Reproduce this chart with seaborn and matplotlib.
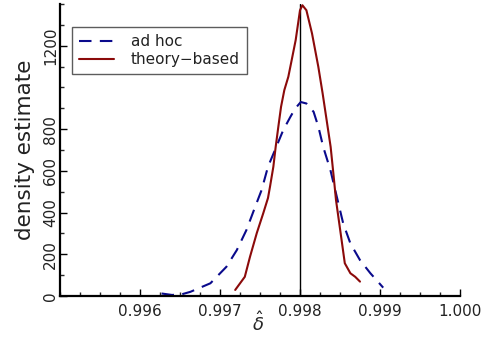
import numpy as np
import pandas as pd
import matplotlib
matplotlib.use("Agg")
import matplotlib.pyplot as plt
from matplotlib.ticker import MultipleLocator, FixedLocator
import seaborn as sns

# Kernel density estimates of delta-hat for the two estimators
adhoc_x = [0.99627, 0.99640, 0.99652, 0.99663, 0.99688, 0.99708, 0.99721, 0.99733,
           0.99744, 0.99752, 0.99760, 0.99767, 0.99779, 0.99788, 0.99794, 0.99801,
           0.99808, 0.99817, 0.99823, 0.99829, 0.99838, 0.99844, 0.99854, 0.99863,
           0.99875, 0.99888, 0.99904]
adhoc_y = [12, 5, 8, 20, 61, 140, 220, 316, 428, 508, 620, 684, 795, 859, 899, 930,
           923, 883, 811, 715, 604, 508, 348, 252, 172, 109, 40]

theory_x = [0.99719, 0.99731, 0.997375, 0.99746, 0.99754, 0.99760, 0.997625,
            0.997667, 0.997696, 0.997729, 0.997763, 0.997804, 0.997854, 0.997896,
            0.997946, 0.99800, 0.99803, 0.99808, 0.99815, 0.998229, 0.998283,
            0.998333, 0.998383, 0.998417, 0.99845, 0.99852, 0.99856, 0.99863,
            0.99869, 0.99875]
theory_y = [29, 92, 188, 302, 396, 470, 524, 620, 715, 811, 907, 987, 1051, 1131,
            1227, 1370, 1394, 1370, 1259, 1099, 971, 843, 715, 588, 460, 268, 157,
            109, 92, 69]

true_delta = 0.998
x_ticks = [0.996, 0.997, 0.998, 0.999, 1.000]
x_tick_labels = ["0.996", "0.997", "0.998", "0.999", "1.000"]
y_ticks = [0, 200, 400, 600, 800, 1200]

sns.set_style("ticks")
plt.rcParams["font.family"] = ["DejaVu Sans"]

fig = plt.figure(figsize=(4.87, 3.41), dpi=100)
ax = fig.add_axes([60 / 487, 45 / 341, 400 / 487, 292 / 341])

df_adhoc = pd.DataFrame({"x": adhoc_x, "y": adhoc_y})
df_theory = pd.DataFrame({"x": theory_x, "y": theory_y})

sns.lineplot(data=df_adhoc, x="x", y="y", ax=ax, color="#0a0a8c", lw=1.5,
             label="ad hoc")
ax.lines[-1].set_dashes([6, 4])
sns.lineplot(data=df_theory, x="x", y="y", ax=ax, color="#8b0a0a", lw=1.5,
             label="theory\u2212based")

ax.axvline(true_delta, color="black", lw=1.0, zorder=1)

ax.set_xlim(0.995, 1.000)
ax.set_ylim(0, 1400)

ax.xaxis.set_major_locator(FixedLocator(x_ticks))
ax.set_xticklabels(x_tick_labels)
ax.xaxis.set_minor_locator(MultipleLocator(0.00025))
ax.yaxis.set_major_locator(FixedLocator(y_ticks))
ax.yaxis.set_minor_locator(MultipleLocator(100))

ax.tick_params(axis="both", which="major", direction="in", length=5, width=1,
               labelsize=11, colors="black")
ax.tick_params(axis="both", which="minor", direction="in", length=3, width=1)
ax.tick_params(axis="x", labelcolor="#222222", pad=6)
ax.tick_params(axis="y", labelcolor="#222222", pad=1.5)
for lab in ax.get_yticklabels():
    lab.set_rotation(90)
    lab.set_va("center")

for side in ["top", "right"]:
    ax.spines[side].set_visible(False)
for side in ["left", "bottom"]:
    ax.spines[side].set_linewidth(1.6)
    ax.spines[side].set_color("black")

ax.set_xlabel(r"$\hat{\delta}$", fontsize=13)
ax.xaxis.set_label_coords(0.495, -0.052)
ax.set_ylabel("density estimate", fontsize=15.5, color="#222222")
ax.yaxis.set_label_coords(-0.063, 0.5)

leg = ax.legend(loc="upper left", bbox_to_anchor=(0.03, 0.921), frameon=True,
                fancybox=False, edgecolor="#333333", fontsize=11,
                handlelength=2.3, handletextpad=1.1, borderpad=0.45,
                labelspacing=0.2, borderaxespad=0)
leg.get_frame().set_linewidth(1.0)
for t in leg.get_texts():
    t.set_color("#222222")

fig.savefig("out.png", dpi=100)
